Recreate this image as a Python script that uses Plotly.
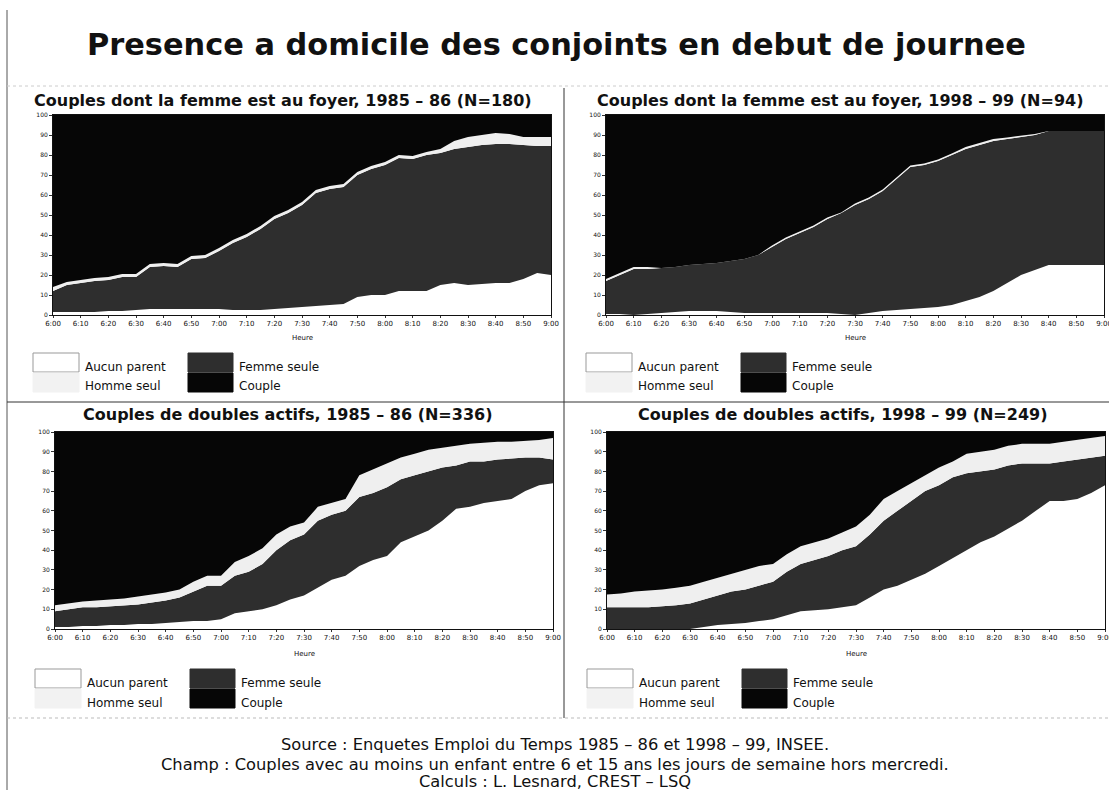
import plotly.graph_objects as go

W, H = 1109, 790

# heures (pas de 5 minutes) et libelles des graduations
heures = ["6:00", "6:05", "6:10", "6:15", "6:20", "6:25", "6:30", "6:35", "6:40", "6:45",
          "6:50", "6:55", "7:00", "7:05", "7:10", "7:15", "7:20", "7:25", "7:30", "7:35",
          "7:40", "7:45", "7:50", "7:55", "8:00", "8:05", "8:10", "8:15", "8:20", "8:25",
          "8:30", "8:35", "8:40", "8:45", "8:50", "8:55", "9:00"]
graduations = ["6:00", "6:10", "6:20", "6:30", "6:40", "6:50", "7:00", "7:10", "7:20", "7:30",
               "7:40", "7:50", "8:00", "8:10", "8:20", "8:30", "8:40", "8:50", "9:00"]
categories = ["Aucun parent", "Femme seule", "Homme seul", "Couple"]

# Couples dont la femme est au foyer, 1985-86
aucun_foyer_85 = [1.5, 1.5, 1.5, 1.5, 2, 2, 2.5, 3, 3, 3, 3, 3, 3, 2.5, 2.5, 2.5, 3, 3.5, 4, 4.5,
                  5, 5.5, 9, 10, 10, 12, 12, 12, 15, 16, 15, 15.5, 16, 16, 18, 21, 20]
femme_foyer_85 = [10.5, 13.5, 14.5, 15.5, 15.5, 17, 16.5, 21, 21.5, 21, 25, 25.5, 29, 33.5, 36.5,
                  40.5, 45, 47.5, 51, 56.5, 58, 58.5, 61, 63, 65, 66.5, 66, 68, 66, 67, 69, 69.5,
                  69.5, 69.5, 67, 63.5, 64.5]
homme_foyer_85 = [2, 1.5, 1.5, 1.5, 1.5, 1.5, 1.5, 1.5, 1.5, 1.5, 1.5, 1.5, 1.5, 1.5, 1.5, 1.5,
                  1.5, 1.5, 1.5, 1.5, 1.5, 1.5, 1.5, 1.5, 1.5, 1.5, 1.5, 1.5, 2, 4, 5, 5, 5.5, 5,
                  4, 4.5, 4.5]
couple_foyer_85 = [86, 83.5, 82.5, 81.5, 81, 79.5, 79.5, 74.5, 74, 74.5, 70.5, 70, 66.5, 62.5,
                   59.5, 55.5, 50.5, 47.5, 43.5, 37.5, 35.5, 34.5, 28.5, 25.5, 23.5, 20, 20.5,
                   18.5, 17, 13, 11, 10, 9, 9.5, 11, 11, 11]

# Couples dont la femme est au foyer, 1998-99
aucun_foyer_98 = [0.5, 0.5, 0, 0.5, 1, 1.5, 2, 2, 2, 1.5, 1, 1, 1, 1, 1, 1, 1, 0.5, 0, 1, 2, 2.5,
                  3, 3.5, 4, 5, 7, 9, 12, 16, 20, 22.5, 25, 25, 25, 25, 25]
femme_foyer_98 = [16.5, 19.5, 23, 22.5, 22.5, 22.5, 23, 23.5, 24, 25.5, 27, 29, 33, 37, 40, 43,
                  47, 50.5, 55, 57, 60, 65.5, 71, 71.5, 73, 75, 76, 76, 75, 72, 69, 67.5, 67, 67,
                  67, 67, 67]
homme_foyer_98 = [1, 1, 1, 1, 0, 0, 0, 0, 0, 0, 0, 0, 0.8, 0.8, 0.8, 0.8, 0.8, 0.3, 0.8, 0.8,
                  0.8, 0.8, 0.8, 0.8, 0.8, 0.8, 1, 1, 1, 0.8, 0.8, 0.5, 0, 0, 0, 0, 0]
couple_foyer_98 = [82, 79, 76, 76, 76.5, 76, 75, 74.5, 74, 73, 72, 70, 65.2, 61.2, 58.2, 55.2,
                   51.2, 48.7, 44.2, 41.2, 37.2, 31.2, 25.2, 24.2, 22.2, 19.2, 16, 14, 12, 11.2,
                   10.2, 9.5, 8, 8, 8, 8, 8]

# Couples de doubles actifs, 1985-86
aucun_actifs_85 = [1, 1, 1.5, 1.5, 2, 2, 2.5, 2.5, 3, 3.5, 4, 4, 5, 8, 9, 10, 12, 15, 17, 21, 25,
                   27, 32, 35, 37, 44, 47, 50, 55, 61, 62, 64, 65, 66, 70, 73, 74]
femme_actifs_85 = [8, 9, 9.5, 9.5, 9.5, 10, 10, 11, 11.5, 12.5, 15, 18, 17, 19, 20, 23, 28, 30,
                   31, 34, 33, 33, 35, 34, 35, 32, 31, 30, 27, 22, 23, 21, 21, 20.5, 17, 14, 12]
homme_actifs_85 = [3, 3, 3, 3.5, 3.5, 3.5, 4, 4, 4, 4, 5, 5, 5, 7, 8, 8, 8, 7, 6, 7, 6, 6, 11,
                   12, 12, 11, 11, 11, 10, 10, 9, 9.5, 9, 8.5, 8.5, 9, 11]
couple_actifs_85 = [88, 87, 86, 85.5, 85, 84.5, 83.5, 82.5, 81.5, 80, 76, 73, 73, 66, 63, 59, 52,
                    48, 46, 38, 36, 34, 22, 19, 16, 13, 11, 9, 8, 7, 6, 5.5, 5, 5, 4.5, 4, 3]

# Couples de doubles actifs, 1998-99
aucun_actifs_98 = [0, 0, 0, 0, 0, 0, 0, 1, 2, 2.5, 3, 4, 5, 7, 9, 9.5, 10, 11, 12, 16, 20, 22,
                   25, 28, 32, 36, 40, 44, 47, 51, 55, 60, 65, 65, 66, 69, 73]
femme_actifs_98 = [11, 11, 11, 11, 11.5, 12, 13, 14, 15, 16.5, 17, 18, 19, 22, 24, 25.5, 27, 29,
                   30, 32, 35, 38, 40, 42, 41, 41, 39, 36, 34, 32, 29, 24, 19, 20, 20, 18, 15]
homme_actifs_98 = [6.5, 7, 8, 8.5, 8.5, 9, 9, 9, 9, 9, 10, 10, 9, 9, 9, 9, 9, 9, 10, 10, 11, 10,
                   9, 8, 9, 8, 10, 10, 10, 10, 10, 10, 10, 10, 10, 10, 10]
couple_actifs_98 = [82.5, 82, 81, 80.5, 80, 79, 78, 76, 74, 72, 70, 68, 67, 62, 58, 56, 54, 51,
                    48, 42, 34, 30, 26, 22, 18, 15, 11, 10, 9, 7, 6, 6, 6, 5, 4, 3, 2]

couleurs = ["#ffffff", "#2e2e2e", "#efefef", "#060606"]
FONT = "DejaVu Sans"


def px(x):
    return x / W


def py(y):
    return 1 - y / H


def texte(txt, x, y, size, xanchor="center"):
    return dict(text=txt, x=px(x), y=py(y), xref="paper", yref="paper",
                xanchor=xanchor, yanchor="middle", showarrow=False,
                font=dict(family=FONT, size=size, color="#111"))


panneaux = [
    dict(titre="Couples dont la femme est au foyer, 1985 – 86 (N=180)",
         series=[aucun_foyer_85, femme_foyer_85, homme_foyer_85, couple_foyer_85],
         x0=53, x1=551, y0=115, y1=315, cx=283, ty=100, hy=338, ly=353),
    dict(titre="Couples dont la femme est au foyer, 1998 – 99 (N=94)",
         series=[aucun_foyer_98, femme_foyer_98, homme_foyer_98, couple_foyer_98],
         x0=606, x1=1104, y0=115, y1=315, cx=840, ty=100, hy=338, ly=353),
    dict(titre="Couples de doubles actifs, 1985 – 86 (N=336)",
         series=[aucun_actifs_85, femme_actifs_85, homme_actifs_85, couple_actifs_85],
         x0=55, x1=553, y0=432, y1=629, cx=287, ty=414, hy=654, ly=669),
    dict(titre="Couples de doubles actifs, 1998 – 99 (N=249)",
         series=[aucun_actifs_98, femme_actifs_98, homme_actifs_98, couple_actifs_98],
         x0=607, x1=1105, y0=432, y1=629, cx=842, ty=414, hy=654, ly=669),
]

fig = go.Figure()
annotations = []
shapes = []

for i, p in enumerate(panneaux, start=1):
    suffix = "" if i == 1 else str(i)
    for nom, vals, coul in zip(categories, p["series"], couleurs):
        fig.add_trace(go.Scatter(
            x=heures, y=vals, name=nom, stackgroup=f"g{i}", mode="lines",
            line=dict(width=0, color=coul), fillcolor=coul, showlegend=False,
            xaxis=f"x{suffix}", yaxis=f"y{suffix}",
        ))

    fig.update_layout(**{
        f"xaxis{suffix}": dict(
            domain=[px(p["x0"]), px(p["x1"])], anchor=f"y{suffix}", type="category",
            range=[0, 36], tickmode="array", tickvals=graduations, ticktext=graduations,
            showline=True, linecolor="#111", linewidth=1, mirror=True, showgrid=False,
            ticks="outside", ticklen=2, tickcolor="#333", automargin=False,
            tickfont=dict(family=FONT, size=7, color="#111"), tickangle=0,
        ),
        f"yaxis{suffix}": dict(
            domain=[py(p["y1"]), py(p["y0"])], anchor=f"x{suffix}", range=[0, 100],
            tickvals=list(range(0, 101, 10)), showline=True, linecolor="#111",
            linewidth=1, mirror=True, showgrid=False, zeroline=False, automargin=False,
            ticks="outside", ticklen=3, tickcolor="#333",
            tickfont=dict(family=FONT, size=6, color="#111"),
        ),
    })

    annotations.append(texte(f"<b>{p['titre']}</b>", p["cx"], p["ty"], 16))
    annotations.append(texte("Heure", (p["x0"] + p["x1"]) / 2, p["hy"], 7))

    # legende 2 x 2
    lx, ly = p["x0"], p["ly"]
    boites = [
        (lx - 20, lx + 26, ly, ly + 19, "#ffffff", "#999"),
        (lx + 135, lx + 180, ly, ly + 19, couleurs[1], couleurs[1]),
        (lx - 20, lx + 26, ly + 20, ly + 39, "#f2f2f2", "#f2f2f2"),
        (lx + 135, lx + 180, ly + 20, ly + 39, couleurs[3], couleurs[3]),
    ]
    for (a, b, c, d, fc, lc), nom in zip(boites, categories):
        shapes.append(dict(type="rect", xref="paper", yref="paper",
                           x0=px(a), x1=px(b), y0=py(d), y1=py(c),
                           fillcolor=fc, line=dict(color=lc, width=1)))
        annotations.append(texte(nom, b + 4, (c + d) / 2 + 4, 12, xanchor="left"))

# cadres et separateurs
for (a, b, c, d, dash, coul) in [
    (7, 7, 10, 790, "solid", "#555"),
    (564, 564, 88, 718, "solid", "#333"),
    (7, 1109, 402, 402, "solid", "#333"),
    (7, 1109, 718, 718, "dot", "#bbb"),
    (7, 1109, 86, 86, "dot", "#ccc"),
]:
    shapes.append(dict(type="line", xref="paper", yref="paper", x0=px(a), x1=px(b),
                       y0=py(c), y1=py(d), line=dict(color=coul, width=1, dash=dash)))

annotations.append(texte("<b>Presence a domicile des conjoints en debut de journee</b>",
                         556, 45, 30.4))

sources = [
    "Source : Enquetes Emploi du Temps 1985 – 86 et 1998 – 99, INSEE.",
    "Champ : Couples avec au moins un enfant entre 6 et 15 ans les jours de semaine hors mercredi.",
    "Calculs : L. Lesnard, CREST – LSQ",
]
for ligne, y in zip(sources, [744, 764, 781]):
    annotations.append(texte(ligne, 555, y, 16.3))

fig.update_layout(
    width=W, height=H, margin=dict(l=0, r=0, t=0, b=0),
    paper_bgcolor="white", plot_bgcolor="white",
    annotations=annotations, shapes=shapes, showlegend=False,
)

fig.write_html("out.html", config={"displayModeBar": False},
               post_script="document.body.style.margin = '0px';")
